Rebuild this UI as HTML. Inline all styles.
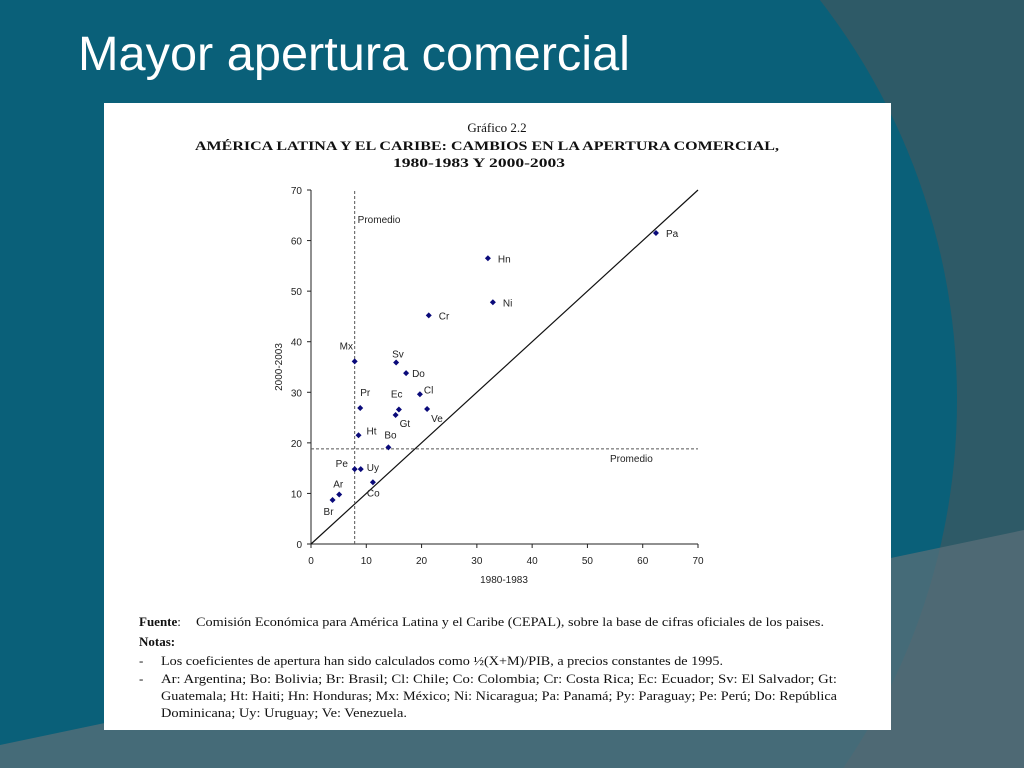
<!DOCTYPE html>
<html><head><meta charset="utf-8"><style>
html,body{margin:0;padding:0;width:1024px;height:768px;overflow:hidden;background:#09607a}
svg{display:block}
</style></head><body>
<svg id="root" width="1024" height="768" viewBox="0 0 1024 768" xmlns="http://www.w3.org/2000/svg">
<rect width="1024" height="768" fill="#2e5a67"/>
<circle cx="305" cy="400" r="652" fill="#0a6079"/>
<polygon points="0,745 1024,530 1024,768 0,768" fill="#5a6f78" opacity="0.75"/>
<text x="78" y="70" font-family="Liberation Sans, sans-serif" font-size="48" fill="#ffffff" textLength="552" lengthAdjust="spacingAndGlyphs">Mayor apertura comercial</text>
<rect x="104" y="103" width="787" height="627" fill="#ffffff"/>
<g font-family="Liberation Serif, serif" fill="#111">
<text x="497" y="132" font-size="13" text-anchor="middle">Gráfico 2.2</text>
<text x="487" y="150" font-size="13" font-weight="bold" text-anchor="middle" textLength="584" lengthAdjust="spacingAndGlyphs">AMÉRICA LATINA Y EL CARIBE: CAMBIOS EN LA APERTURA COMERCIAL,</text>
<text x="479" y="167" font-size="13" font-weight="bold" text-anchor="middle" textLength="172" lengthAdjust="spacingAndGlyphs">1980-1983 Y 2000-2003</text>
</g>
<g id="chart"></g>
<g font-family="Liberation Serif, serif" font-size="13" fill="#111">
<text x="139" y="626"><tspan font-weight="bold">Fuente</tspan>:</text>
<text x="196" y="626" textLength="628" lengthAdjust="spacingAndGlyphs">Comisión Económica para América Latina y el Caribe (CEPAL), sobre la base de cifras oficiales de los paises.</text>
<text x="139" y="646" font-weight="bold">Notas:</text>
<text x="139" y="665">-</text>
<text x="161" y="665" textLength="562" lengthAdjust="spacingAndGlyphs">Los coeficientes de apertura han sido calculados como ½(X+M)/PIB, a precios constantes de 1995.</text>
<text x="139" y="683">-</text>
<text x="161" y="683" textLength="676" lengthAdjust="spacingAndGlyphs">Ar: Argentina; Bo: Bolivia; Br: Brasil; Cl: Chile; Co: Colombia; Cr: Costa Rica; Ec: Ecuador; Sv: El Salvador; Gt:</text>
<text x="161" y="700" textLength="676" lengthAdjust="spacingAndGlyphs">Guatemala; Ht: Haiti; Hn: Honduras; Mx: México; Ni: Nicaragua; Pa: Panamá; Py: Paraguay; Pe: Perú; Do: República</text>
<text x="161" y="717" textLength="246" lengthAdjust="spacingAndGlyphs">Dominicana; Uy: Uruguay; Ve: Venezuela.</text>
</g>
</svg>
<script>
const labels=["Pa","Hn","Ni","Cr","Mx","Sv","Do","Cl","Pr","Ec","Ve","Gt","Ht","Bo","Pe","Uy","Co","Ar","Br"];
const xValues=[62.4,32.0,32.9,21.3,7.9,15.4,17.2,19.7,8.9,15.9,21.0,15.3,8.6,14.0,7.9,9.0,11.2,5.1,3.9];
const yValues=[61.5,56.5,47.8,45.2,36.1,35.9,33.8,29.6,26.9,26.6,26.7,25.5,21.5,19.1,14.8,14.8,12.2,9.8,8.7];
const ticks=[0,10,20,30,40,50,60,70];
const avgX=7.9, avgY=18.8;
const lblOff={Pa:[10,4],Hn:[10,4],Ni:[10,4],Cr:[10,4],Mx:[-15,-12],Sv:[-4,-5],Do:[6,4],Cl:[4,-1],Pr:[0,-12],Ec:[-8,-12],Ve:[4,13],Gt:[4,12],Ht:[8,-1],Bo:[-4,-9],Pe:[-19,-2],Uy:[6,2],Co:[-6,14],Ar:[-6,-7],Br:[-9,15]};
const NS="http://www.w3.org/2000/svg";
const g=document.getElementById('chart');
const X0=311,X1=698,Y0=544,Y1=190;
const sx=v=>X0+(X1-X0)*v/70, sy=v=>Y0-(Y0-Y1)*v/70;
function el(t,a){const e=document.createElementNS(NS,t);for(const k in a)e.setAttribute(k,a[k]);g.appendChild(e);return e;}
let e;
e=el('line',{x1:X0,y1:Y0,x2:X1,y2:Y0,stroke:'#222','stroke-width':1});


e=el('line',{x1:X0,y1:Y0,x2:X0,y2:Y1,stroke:'#222','stroke-width':1});


ticks.forEach(t=>{
 e=el('line',{x1:sx(t),y1:Y0,x2:sx(t),y2:Y0+4,stroke:'#222'});
 
 
 e=el('text',{x:sx(t),y:Y0+20,'font-size':10,'font-family':'Liberation Sans, sans-serif','text-anchor':'middle',fill:'#222'});e.textContent=t;
 
 
 e=el('line',{x1:X0-4,y1:sy(t),x2:X0,y2:sy(t),stroke:'#222'});
 
 
 e=el('text',{x:X0-9,y:sy(t)+4,'font-size':10,'font-family':'Liberation Sans, sans-serif','text-anchor':'end',fill:'#222'});e.textContent=t;
 
 
});
e=el('text',{x:504,y:583,'font-size':10,'font-family':'Liberation Sans, sans-serif','text-anchor':'middle',fill:'#222'});e.textContent='1980-1983';


e=el('text',{x:0,y:0,'font-size':10,'font-family':'Liberation Sans, sans-serif','text-anchor':'middle',fill:'#222',transform:'translate(282,367) rotate(-90)'});e.textContent='2000-2003';


e=el('line',{x1:sx(0),y1:sy(0),x2:sx(70),y2:sy(70),stroke:'#111','stroke-width':1.2});


e=el('line',{x1:sx(avgX),y1:Y0,x2:sx(avgX),y2:Y1,stroke:'#555','stroke-dasharray':'3,2'});


e=el('line',{x1:X0,y1:sy(avgY),x2:X1,y2:sy(avgY),stroke:'#555','stroke-dasharray':'3,2'});


e=el('text',{x:sx(avgX)+3,y:sy(70)+33,'font-size':10,'font-family':'Liberation Sans, sans-serif',fill:'#222'});e.textContent='Promedio';


e=el('text',{x:610,y:sy(avgY)+13,'font-size':10,'font-family':'Liberation Sans, sans-serif',fill:'#222'});e.textContent='Promedio';


labels.forEach((l,i)=>{
 const cx=sx(xValues[i]),cy=sy(yValues[i]);
 e=el('polygon',{points:`${cx},${cy-3} ${cx+3},${cy} ${cx},${cy+3} ${cx-3},${cy}`,fill:'#0a0a7a'});
 
 
 const o=lblOff[l]||[6,4];
 e=el('text',{x:cx+o[0],y:cy+o[1],'font-size':10,'font-family':'Liberation Sans, sans-serif',fill:'#222'});e.textContent=l;
 
 
});
</script>
</body></html>
